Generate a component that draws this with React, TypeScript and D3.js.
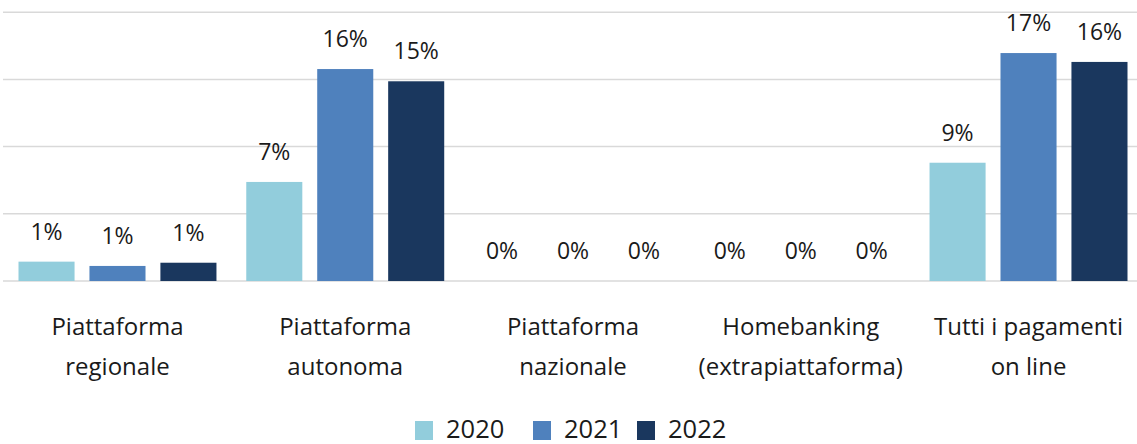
import React, { useEffect, useRef } from 'react';
import * as d3 from 'd3';

const categories = [
  ['Piattaforma', 'regionale'],
  ['Piattaforma', 'autonoma'],
  ['Piattaforma', 'nazionale'],
  ['Homebanking', '(extrapiattaforma)'],
  ['Tutti i pagamenti', 'on line'],
];
const years = ['2020', '2021', '2022'];
const values2020 = [1.44, 7.37, 0, 0, 8.8];
const values2021 = [1.12, 15.77, 0, 0, 16.96];
const values2022 = [1.36, 14.86, 0, 0, 16.3];
const labels2020 = ['1%', '7%', '0%', '0%', '9%'];
const labels2021 = ['1%', '16%', '0%', '0%', '17%'];
const labels2022 = ['1%', '15%', '0%', '0%', '16%'];
const gridTicks = [0, 5, 10, 15, 20];
const colors = ['#92CDDC', '#4F81BD', '#1A375E'];

const series = [values2020, values2021, values2022];
const seriesLabels = [labels2020, labels2021, labels2022];

const App: React.FC = () => {
  const svgRef = useRef<SVGSVGElement | null>(null);

  useEffect(() => {
    const width = 1137;
    const height = 444;
    const svg = d3.select(svgRef.current!);
    svg.selectAll('*').remove();

    const font = "'Open Sans', sans-serif";

    const x0 = d3
      .scaleBand<number>()
      .domain(categories.map((_, i) => i))
      .range([3.6, 1142.4])
      .padding(0);
    const x1 = d3.scaleBand<number>().domain([0, 1, 2]).range([0, x0.bandwidth()]).padding(0.21);
    const y = d3.scaleLinear().domain([0, 20]).range([281, 12.2]);

    // gridlines
    svg
      .append('g')
      .selectAll('line')
      .data(gridTicks)
      .enter()
      .append('line')
      .attr('x1', 3)
      .attr('x2', width)
      .attr('y1', (d) => y(d))
      .attr('y2', (d) => y(d))
      .attr('stroke', '#d9d9d9')
      .attr('stroke-width', 1.5);

    // bars + value labels
    const groups = svg
      .append('g')
      .selectAll('g')
      .data(categories)
      .enter()
      .append('g')
      .attr('transform', (_, i) => `translate(${x0(i)},0)`);

    groups.each(function (_, ci) {
      const g = d3.select(this);
      series.forEach((vals, si) => {
        g.append('rect')
          .attr('x', x1(si)!)
          .attr('y', y(vals[ci]))
          .attr('width', x1.bandwidth())
          .attr('height', y(0) - y(vals[ci]))
          .attr('fill', colors[si]);
        g.append('text')
          .attr('x', x1(si)! + x1.bandwidth() / 2)
          .attr('y', y(vals[ci]) - 22)
          .attr('text-anchor', 'middle')
          .attr('font-family', font)
          .attr('font-size', 23)
          .attr('fill', '#1a1a1a')
          .text(seriesLabels[si][ci]);
      });
      const lines = categories[ci];
      lines.forEach((line, li) => {
        g.append('text')
          .attr('x', x0.bandwidth() / 2)
          .attr('y', 335 + li * 40)
          .attr('text-anchor', 'middle')
          .attr('font-family', font)
          .attr('font-size', 24)
          .attr('fill', '#1a1a1a')
          .text(line);
      });
    });

    // legend
    const legendX = [415, 533, 637];
    const legend = svg.append('g');
    years.forEach((yr, i) => {
      legend
        .append('rect')
        .attr('x', legendX[i])
        .attr('y', 421)
        .attr('width', 18)
        .attr('height', 19)
        .attr('fill', colors[i]);
      legend
        .append('text')
        .attr('x', legendX[i] + 31)
        .attr('y', 438)
        .attr('font-family', font)
        .attr('font-size', 25.5)
        .attr('fill', '#1a1a1a')
        .text(yr);
    });

    svg.attr('width', width).attr('height', height);
  }, []);

  return (
    <svg
      ref={svgRef}
      width={1137}
      height={444}
      style={{ position: 'absolute', left: 0, top: 0, background: '#fff' }}
    />
  );
};

export default App;
